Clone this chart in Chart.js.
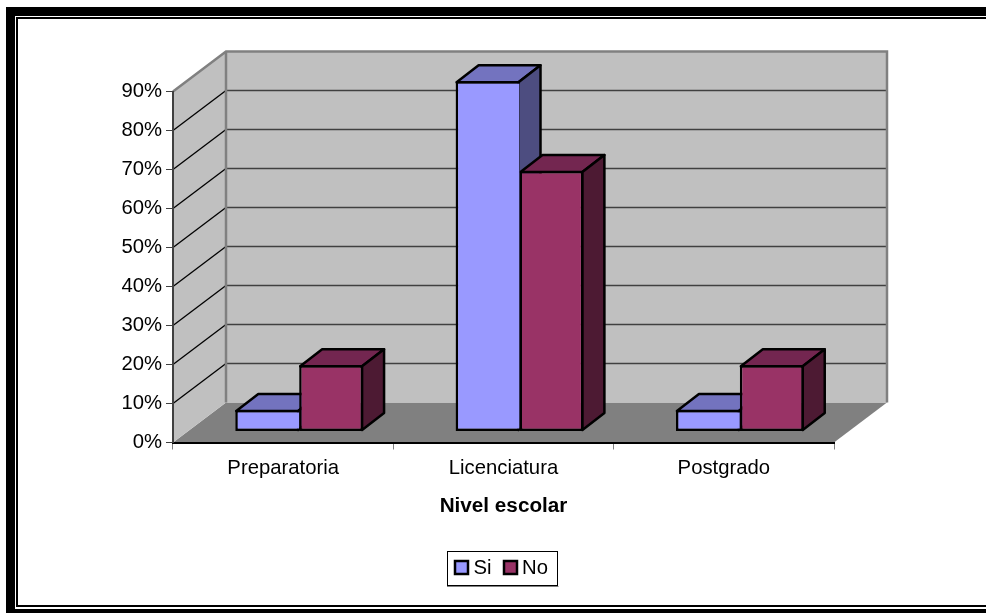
<!DOCTYPE html>
<html>
<head>
<meta charset="utf-8">
<style>
html, body { margin: 0; padding: 0; background: #fff; overflow: hidden; }
#wrap { position: relative; width: 986px; height: 613px; overflow: hidden; }
#thick { position: absolute; left: 6px; top: 7px; width: 1100px; height: 700px; box-sizing: border-box; border: solid #000; border-width: 9px 0 0 9px; }
#thickBottom { position: absolute; left: 6px; top: 609px; width: 1000px; height: 10px; background: #000; }
#thin { position: absolute; left: 16px; top: 17px; width: 1100px; height: 590px; box-sizing: border-box; border: solid #000; border-width: 2px 0 2px 2px; }
#myChart { position: absolute; left: 0; top: 0; }
</style>
<script src="https://cdn.jsdelivr.net/npm/chart.js@4"></script>
</head>
<body>
<div id="wrap">
    <div id="thick"></div>
    <div id="thickBottom"></div>
    <div id="thin"></div>
    <canvas id="myChart" width="986" height="613"></canvas>
</div>
<script>
const categories = ['Preparatoria', 'Licenciatura', 'Postgrado'];
const siValues = [5.5, 89.8, 5.5];
const noValues = [17, 66.8, 17];
const seriesNames = ['Si', 'No'];
const axisTitle = 'Nivel escolar';

const font = 'Liberation Sans, Arial, sans-serif';
const wallDepth = { x: 53, y: -40 };
const barDepth = { x: 22, y: -17 };
const barShift = { x: 16, y: -11 };
const faceColors = [
    { top: '#7373bf', side: '#4d4d80' },
    { top: '#732650', side: '#4d1a33' }
];

// walls and floor behind everything
function drawWalls(chart) {
    const c = chart.ctx;
    const a = chart.chartArea;
    const y = chart.scales.y;
    const dx = wallDepth.x, dy = wallDepth.y;
    c.save();
    c.fillStyle = '#808080';
    c.beginPath();
    c.moveTo(a.left, a.bottom);
    c.lineTo(a.left + dx, a.bottom + dy);
    c.lineTo(a.right + dx, a.bottom + dy);
    c.lineTo(a.right, a.bottom);
    c.closePath();
    c.fill();

    c.fillStyle = '#c0c0c0';
    c.fillRect(a.left + dx, a.top + dy, a.width, a.height);
    c.beginPath();
    c.moveTo(a.left, a.top);
    c.lineTo(a.left + dx, a.top + dy);
    c.lineTo(a.left + dx, a.bottom + dy);
    c.lineTo(a.left, a.bottom);
    c.closePath();
    c.fill();

    y.ticks.forEach(function(t) {
        if (t.value == 0 || t.value == y.max) return;
        const py = y.getPixelForValue(t.value);
        c.lineWidth = 1.3;
        c.strokeStyle = '#000';
        c.beginPath();
        c.moveTo(a.left, py);
        c.lineTo(a.left + dx, py + dy);
        c.stroke();
        c.lineWidth = 1.5;
        c.strokeStyle = '#404040';
        c.beginPath();
        c.moveTo(a.left + dx, py + dy);
        c.lineTo(a.right + dx, py + dy);
        c.stroke();
    });

    c.strokeStyle = '#808080';
    c.lineWidth = 2.5;
    c.beginPath();
    c.moveTo(a.left, a.top);
    c.lineTo(a.left + dx, a.top + dy);
    c.lineTo(a.right + dx, a.top + dy);
    c.lineTo(a.right + dx, a.bottom + dy);
    c.moveTo(a.left + dx, a.top + dy);
    c.lineTo(a.left + dx, a.bottom + dy);
    c.stroke();
    c.restore();
}

// top and side of each bar, the library paints the front over them
function drawBarFaces(chart) {
    const c = chart.ctx;
    const dx = barDepth.x, dy = barDepth.y;
    c.save();
    c.translate(barShift.x, barShift.y);
    c.strokeStyle = '#000';
    c.lineWidth = 2.5;
    c.lineJoin = 'round';
    chart.data.datasets.forEach(function(ds, i) {
        chart.getDatasetMeta(i).data.forEach(function(bar) {
            const p = bar.getProps(['x', 'y', 'base', 'width'], true);
            const l = p.x - p.width / 2 + 1, r = p.x + p.width / 2 - 1;
            const t = p.y + 1, b = p.base - 1;
            c.fillStyle = faceColors[i].top;
            c.beginPath();
            c.moveTo(l, t);
            c.lineTo(l + dx, t + dy);
            c.lineTo(r + dx, t + dy);
            c.lineTo(r, t);
            c.closePath();
            c.fill();
            c.stroke();
            c.fillStyle = faceColors[i].side;
            c.beginPath();
            c.moveTo(r, t);
            c.lineTo(r + dx, t + dy);
            c.lineTo(r + dx, b + dy);
            c.lineTo(r, b);
            c.closePath();
            c.fill();
            c.stroke();
        });
    });
    c.restore();
}

function drawLegend(chart) {
    const c = chart.ctx;
    c.save();
    c.fillStyle = '#fff';
    c.fillRect(447.5, 551.5, 110, 34);
    c.strokeStyle = '#000';
    c.lineWidth = 1;
    c.strokeRect(447.5, 551.5, 110, 34);
    c.strokeStyle = '#808080';
    c.beginPath();
    c.moveTo(447, 586.5);
    c.lineTo(558.5, 586.5);
    c.stroke();
    const boxX = [455, 504];
    const textX = [473.5, 522];
    c.font = '20.3px ' + font;
    c.textBaseline = 'middle';
    chart.data.datasets.forEach(function(ds, i) {
        c.fillStyle = ds.backgroundColor;
        c.fillRect(boxX[i], 561, 13, 13);
        c.strokeStyle = '#000';
        c.lineWidth = 2.5;
        c.strokeRect(boxX[i], 561, 13, 13);
        c.fillStyle = '#000';
        c.fillText(ds.label, textX[i], 568);
    });
    c.restore();
}

const fakeDepth = {
    id: 'fakeDepth',
    beforeDraw: drawWalls,
    beforeDatasetsDraw: function(chart) {
        drawBarFaces(chart);
        chart.ctx.save();
        chart.ctx.translate(barShift.x, barShift.y);
    },
    afterDatasetsDraw: function(chart) {
        chart.ctx.restore();
    },
    afterDraw: drawLegend
};

const myChart = new Chart(document.getElementById('myChart'), {
    type: 'bar',
    data: {
        labels: categories,
        datasets: [{
            label: seriesNames[0],
            data: siValues,
            backgroundColor: '#9999ff',
            borderColor: '#000',
            borderWidth: { top: 2.5, left: 2.5, bottom: 2.5, right: 0 },
            borderSkipped: false
        }, {
            label: seriesNames[1],
            data: noValues,
            backgroundColor: '#993366',
            borderColor: '#000',
            borderWidth: 2.5,
            borderSkipped: false
        }]
    },
    options: {
        responsive: false,
        animation: false,
        categoryPercentage: 0.58,
        barPercentage: 1,
        layout: { padding: { left: 0, right: 152, top: 91.5, bottom: 90.5 } },
        plugins: {
            legend: { display: false },
            tooltip: { enabled: false }
        },
        scales: {
            x: {
                afterFit: function(s) { s.height = 80; },
                border: { color: '#000', width: 2 },
                grid: { color: '#808080', drawOnChartArea: false, tickLength: 7 },
                ticks: { color: '#000', font: { family: font, size: 20.3 }, padding: 7, maxRotation: 0 },
                title: {
                    display: true,
                    text: axisTitle,
                    color: '#000',
                    font: { family: font, size: 20.7, weight: 'bold' },
                    padding: { top: 0, bottom: 4 }
                }
            },
            y: {
                min: 0,
                max: 90,
                afterFit: function(s) { s.width = 173; },
                border: { color: '#404040', width: 2 },
                grid: { color: '#404040', drawOnChartArea: false, tickLength: 7 },
                ticks: {
                    stepSize: 10,
                    color: '#000',
                    font: { family: font, size: 20.3 },
                    padding: 4,
                    callback: function(v) { return v + '%'; }
                }
            }
        }
    },
    plugins: [fakeDepth]
});
</script>
</body>
</html>
